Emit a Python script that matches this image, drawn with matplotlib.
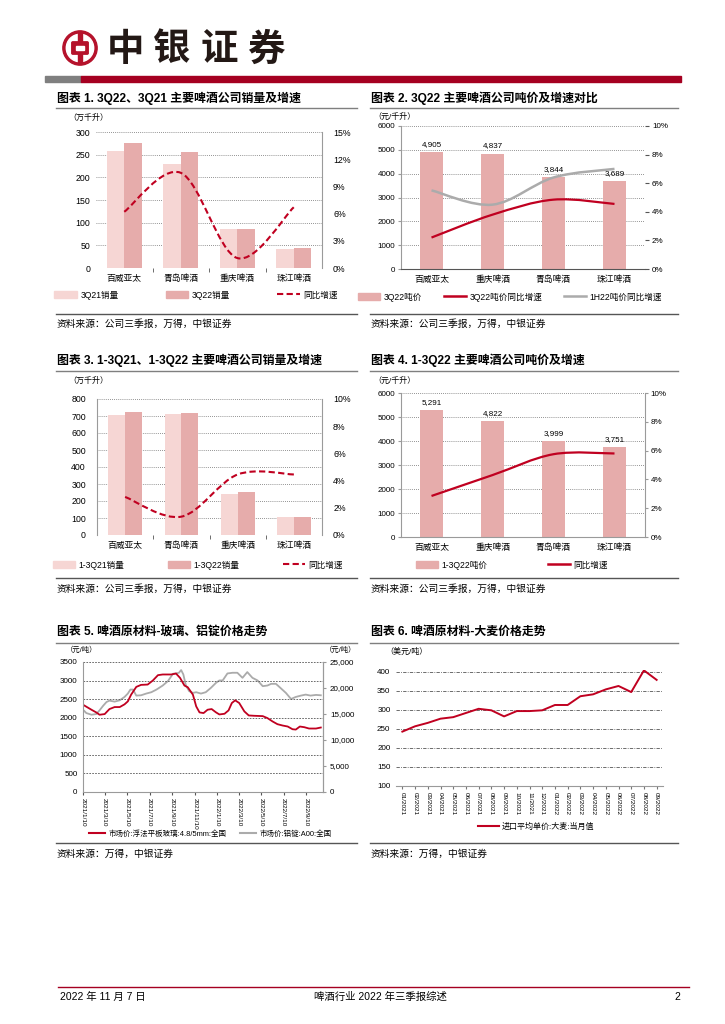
import numpy as np
import pandas as pd
import matplotlib
matplotlib.use("Agg")
import matplotlib.pyplot as plt
from matplotlib.path import Path
from matplotlib.patches import PathPatch, Patch, Circle, Rectangle, FancyBboxPatch
from matplotlib.lines import Line2D
import matplotlib.ticker as mticker

plt.rcParams['font.family'] = ['Liberation Sans', 'Noto Sans CJK SC', 'DejaVu Sans']
plt.rcParams['axes.unicode_minus'] = False

# ---- data ----
companies_a = ["百威亚太", "青岛啤酒", "重庆啤酒", "珠江啤酒"]
companies_b = ["百威亚太", "重庆啤酒", "青岛啤酒", "珠江啤酒"]

sales_3q21 = [258, 230, 87, 43]
sales_3q22 = [275, 256, 87, 45]
sales_yoy_3q = [6.2, 10.5, 1.1, 6.7]

price_3q22 = [4905, 4837, 3844, 3689]
price_yoy_3q22 = [2.2, 3.8, 4.85, 4.55]
price_yoy_1h22 = [5.5, 4.5, 6.4, 7.0]

sales_13q21 = [705, 711, 239, 105]
sales_13q22 = [722, 720, 251, 105]
sales_yoy_13q = [2.8, 1.35, 4.45, 4.45]

price_13q22 = [5291, 4822, 3999, 3751]
price_yoy_13q22 = [2.85, 4.3, 5.75, 5.8]

glass_dates = ["2021-01-10", "2021-02-02", "2021-02-15", "2021-02-24", "2021-03-10",
               "2021-03-23", "2021-04-06", "2021-04-20", "2021-05-03", "2021-05-12",
               "2021-05-21", "2021-06-04", "2021-06-17", "2021-07-05", "2021-07-19",
               "2021-08-02", "2021-08-15", "2021-09-07", "2021-09-20", "2021-10-01",
               "2021-10-13", "2021-10-22", "2021-11-05", "2021-11-14", "2021-11-23",
               "2021-12-04", "2021-12-15", "2021-12-26", "2022-01-07", "2022-01-16",
               "2022-01-30", "2022-02-10", "2022-02-19", "2022-02-28", "2022-03-11",
               "2022-03-25", "2022-04-06", "2022-04-21", "2022-05-14", "2022-05-27",
               "2022-06-10", "2022-06-23", "2022-07-07", "2022-07-21", "2022-08-03",
               "2022-08-12", "2022-08-23", "2022-09-04", "2022-09-17", "2022-10-06",
               "2022-10-19"]
glass_price = [2350, 2215, 2143, 2080, 2098, 2233, 2287, 2287, 2360, 2440,
               2622, 2830, 2884, 2893, 3001, 3146, 3164, 3164, 3190, 3073,
               2866, 2820, 2622, 2305, 2143, 2125, 2215, 2233, 2143, 2088,
               2106, 2197, 2396, 2468, 2396, 2170, 2061, 2052, 2043, 1989,
               1898, 1826, 1790, 1763, 1690, 1681, 1763, 1745, 1709, 1709,
               1736]

alu_dates = ["2021-01-10", "2021-01-19", "2021-02-02", "2021-02-15", "2021-02-24",
             "2021-03-06", "2021-03-15", "2021-03-23", "2021-04-06", "2021-04-20",
             "2021-05-03", "2021-05-12", "2021-05-19", "2021-05-26", "2021-06-04",
             "2021-06-17", "2021-07-01", "2021-07-15", "2021-07-29", "2021-08-15",
             "2021-08-29", "2021-09-12", "2021-09-20", "2021-09-28", "2021-10-04",
             "2021-10-10", "2021-10-17", "2021-10-26", "2021-11-05", "2021-11-14",
             "2021-11-27", "2021-12-10", "2021-12-24", "2022-01-07", "2022-01-16",
             "2022-01-25", "2022-02-07", "2022-02-21", "2022-03-06", "2022-03-20",
             "2022-04-02", "2022-04-16", "2022-04-30", "2022-05-14", "2022-05-27",
             "2022-06-06", "2022-06-19", "2022-07-03", "2022-07-16", "2022-07-30",
             "2022-08-12", "2022-08-26", "2022-09-08", "2022-09-21", "2022-10-06",
             "2022-10-19"]
alu_price = [15830, 15180, 14860, 14990, 15700, 16600, 17310, 17570, 17380, 17640,
             18280, 18930, 19700, 19700, 18540, 18600, 18930, 19190, 19700, 20480,
             21320, 22740, 22800, 22930, 23450, 22610, 20480, 19380, 19060, 19190,
             18930, 19190, 20030, 21000, 21450, 21450, 22800, 22930, 22930, 21960,
             23060, 21960, 21450, 20350, 20480, 20800, 20800, 19900, 19060, 17890,
             18280, 18540, 18730, 18540, 18670, 18600]

barley_months = ["01/2021", "02/2021", "03/2021", "04/2021", "05/2021", "06/2021",
                 "07/2021", "08/2021", "09/2021", "10/2021", "11/2021", "12/2021",
                 "01/2022", "02/2022", "03/2022", "04/2022", "05/2022", "06/2022",
                 "07/2022", "08/2022", "09/2022"]
barley_price = [243, 257, 266, 277, 281, 292, 303, 299, 283, 297, 297, 299,
                313, 313, 336, 341, 354, 363, 347, 404, 379]

# ---- style ----
RED = "#B5122B"
DARKRED = "#A50021"
LINE_RED = "#C00020"
PINK_LIGHT = "#F6D6D4"
PINK = "#E6ACAB"
GRAY_LINE = "#ABABAB"
SPINE = "#9A9A9A"
TICK_FS = 6.3
W, H = 725, 1024


def fx(x):
    return x / W


def fy(y):
    return 1 - y / H


def box(x0, y0, x1, y1):
    return [fx(x0), fy(y1), (x1 - x0) / W, (y1 - y0) / H]


def smooth_path(xs, ys):
    # Excel style smoothed line (Catmull-Rom as cubic bezier)
    n = len(xs)
    verts = [(xs[0], ys[0])]
    codes = [Path.MOVETO]
    for i in range(n - 1):
        xa, ya = (xs[i - 1], ys[i - 1]) if i > 0 else (xs[i], ys[i])
        xd, yd = (xs[i + 2], ys[i + 2]) if i + 2 < n else (xs[i + 1], ys[i + 1])
        c1 = (xs[i] + (xs[i + 1] - xa) / 6, ys[i] + (ys[i + 1] - ya) / 6)
        c2 = (xs[i + 1] - (xd - xs[i]) / 6, ys[i + 1] - (yd - ys[i]) / 6)
        verts += [c1, c2, (xs[i + 1], ys[i + 1])]
        codes += [Path.CURVE4] * 3
    return Path(verts, codes)


def add_smooth(ax, ys, color, ls="-", lw=1.5):
    xs = list(range(len(ys)))
    ax.add_patch(PathPatch(smooth_path(xs, ys), fill=False, edgecolor=color,
                           linestyle=ls, linewidth=lw, capstyle="butt"))


def hline(x0, x1, y, color, lw):
    fig.add_artist(Line2D([fx(x0), fx(x1)], [fy(y), fy(y)], color=color, lw=lw))


def dotted_grid(ax):
    ax.yaxis.grid(True, linestyle=(0, (1, 1.5)), color="#707070", lw=0.6)
    ax.set_axisbelow(True)


fig = plt.figure(figsize=(7.25, 10.24), dpi=100)

# ---- header ----
logo = fig.add_axes(box(62, 30, 98, 66))
logo.set_xlim(-1.05, 1.05)
logo.set_ylim(-1.05, 1.05)
logo.set_aspect("equal")
logo.axis("off")
logo.add_patch(Circle((0, 0), 1.0, color=RED))
logo.add_patch(Circle((0, 0), 0.8, color="white"))
logo.add_patch(Rectangle((-0.13, -0.9), 0.26, 1.8, color=RED))
logo.add_patch(FancyBboxPatch((-0.42, -0.3), 0.84, 0.6, boxstyle="round,pad=0.06", color=RED))
logo.add_patch(Rectangle((-0.24, -0.14), 0.48, 0.28, color="white"))

for ch, cx in zip("中银证券", [125, 172, 219, 266]):
    fig.text(fx(cx), fy(49), ch, fontsize=27, fontweight="bold", color="#231815",
             ha="center", va="center", family=["Noto Sans CJK SC"])

fig.add_artist(Rectangle((fx(45), fy(82)), (81 - 45) / W, 6 / H, color="#7F7F7F",
                         transform=fig.transFigure))
fig.add_artist(Rectangle((fx(81), fy(82)), (681 - 81) / W, 6 / H, color=DARKRED,
                         transform=fig.transFigure))

# ---- titles, rules and sources ----
titles = [
    (57, 98, "图表 1. 3Q22、3Q21 主要啤酒公司销量及增速"),
    (371, 98, "图表 2. 3Q22 主要啤酒公司吨价及增速对比"),
    (57, 360, "图表 3. 1-3Q21、1-3Q22 主要啤酒公司销量及增速"),
    (371, 360, "图表 4. 1-3Q22 主要啤酒公司吨价及增速"),
    (57, 632, "图表 5. 啤酒原材料-玻璃、铝锭价格走势"),
    (371, 632, "图表 6. 啤酒原材料-大麦价格走势"),
]
for x, y, t in titles:
    fig.text(fx(x), fy(y), t, fontsize=8.6, fontweight="bold", ha="left", va="center")

for y in [108, 371, 643]:
    hline(56, 357, y, "#7F7F7F", 1.0)
    hline(370, 678, y, "#7F7F7F", 1.0)
for y in [314, 578, 843]:
    hline(56, 357, y, "#555555", 1.0)
    hline(370, 678, y, "#555555", 1.0)

src1 = "资料来源：公司三季报，万得，中银证券"
src2 = "资料来源：万得，中银证券"
for y, s in [(324, src1), (589, src1), (854, src2)]:
    fig.text(fx(57), fy(y), s, fontsize=7, ha="left", va="center", style="italic")
    fig.text(fx(371), fy(y), s, fontsize=7, ha="left", va="center", style="italic")

# ---- footer ----
hline(58, 689, 987, DARKRED, 1.0)
fig.text(fx(60), fy(997), "2022 年 11 月 7 日", fontsize=7.5, ha="left", va="center")
fig.text(fx(380), fy(997), "啤酒行业 2022 年三季报综述", fontsize=7.5, ha="center", va="center")
fig.text(fx(677), fy(997), "2", fontsize=7.5, ha="center", va="center")


def legend_at(handles, labels, x, y, spacing, fs=6.2, hl=2.6):
    fig.legend(handles, labels, loc="center", bbox_to_anchor=(fx(x), fy(y)),
               ncol=len(handles), frameon=False, fontsize=fs, columnspacing=spacing,
               handlelength=hl, handleheight=0.9, handletextpad=0.4)


x4 = np.arange(4)

# ---- chart 1 ----
ax = fig.add_axes(box(96, 132, 322, 268))
ax.bar(x4 - 0.155, sales_3q21, 0.31, color=PINK_LIGHT)
ax.bar(x4 + 0.155, sales_3q22, 0.31, color=PINK)
ax.set_xlim(-0.5, 3.5)
ax.set_ylim(0, 300)
ax.set_yticks(range(0, 301, 50))
ax.set_xticks(x4)
ax.set_xticklabels(companies_a)
ax.set_xticks([0.5, 1.5, 2.5], minor=True)
dotted_grid(ax)
for s in ["top", "left", "bottom", "right"]:
    ax.spines[s].set_visible(False)
ax.tick_params(axis="y", length=0, labelsize=TICK_FS, pad=4)
ax.tick_params(axis="x", which="major", length=0, labelsize=TICK_FS, pad=4)
ax.tick_params(axis="x", which="minor", length=3, color="#555555")
ax2 = ax.twinx()
ax2.set_ylim(0, 15)
ax2.set_yticks(range(0, 16, 3))
ax2.yaxis.set_major_formatter(mticker.FormatStrFormatter("%d%%"))
for s in ["top", "left", "bottom"]:
    ax2.spines[s].set_visible(False)
ax2.spines["right"].set_color(SPINE)
ax2.tick_params(axis="y", length=0, labelsize=TICK_FS, pad=8)
add_smooth(ax2, sales_yoy_3q, LINE_RED, ls=(0, (3, 1.6)), lw=1.5)
fig.text(fx(68), fy(118), "（万千升）", fontsize=5.8, ha="left", va="center")
legend_at([Patch(color=PINK_LIGHT), Patch(color=PINK),
           Line2D([], [], color=LINE_RED, ls=(0, (3, 1.6)), lw=1.5)],
          ["3Q21销量", "3Q22销量", "同比增速"], 196, 295, 5.5)

# ---- chart 2 ----
ax = fig.add_axes(box(401, 126, 645, 269))
ax.bar(x4, price_3q22, 0.38, color=PINK)
for xi, v in zip(x4, price_3q22):
    ax.text(xi, v + 180, f"{v:,}", ha="center", va="bottom", fontsize=5.8)
ax.set_xlim(-0.5, 3.5)
ax.set_ylim(0, 6000)
ax.set_yticks(range(0, 6001, 1000))
ax.set_xticks(x4)
ax.set_xticklabels(companies_b)
dotted_grid(ax)
for s in ["top", "right"]:
    ax.spines[s].set_visible(False)
ax.spines["left"].set_color(SPINE)
ax.spines["bottom"].set_color("#555555")
ax.tick_params(axis="y", length=2, color=SPINE, labelsize=TICK_FS - 0.5, pad=2)
ax.tick_params(axis="x", length=0, labelsize=TICK_FS, pad=4)
ax2 = ax.twinx()
ax2.set_ylim(0, 10)
ax2.set_yticks(range(0, 11, 2))
ax2.yaxis.set_major_formatter(mticker.FormatStrFormatter("%d%%"))
for s in ["top", "left", "bottom", "right"]:
    ax2.spines[s].set_visible(False)
ax2.tick_params(axis="y", length=3, color="#555555", labelsize=TICK_FS - 0.5, pad=2)
add_smooth(ax2, price_yoy_1h22, GRAY_LINE, lw=1.8)
add_smooth(ax2, price_yoy_3q22, LINE_RED, lw=1.6)
fig.text(fx(373), fy(117), "（元/千升）", fontsize=5.8, ha="left", va="center")
legend_at([Patch(color=PINK), Line2D([], [], color=LINE_RED, lw=1.8),
           Line2D([], [], color=GRAY_LINE, lw=1.8)],
          ["3Q22吨价", "3Q22吨价同比增速", "1H22吨价同比增速"], 510, 297, 2.5)

# ---- chart 3 ----
ax = fig.add_axes(box(97, 399, 322, 535))
ax.bar(x4 - 0.15, sales_13q21, 0.3, color=PINK_LIGHT)
ax.bar(x4 + 0.15, sales_13q22, 0.3, color=PINK)
ax.set_xlim(-0.5, 3.5)
ax.set_ylim(0, 800)
ax.set_yticks(range(0, 801, 100))
ax.set_xticks(x4)
ax.set_xticklabels(companies_a)
ax.set_xticks([0.5, 1.5, 2.5], minor=True)
dotted_grid(ax)
for s in ["top", "right", "bottom"]:
    ax.spines[s].set_visible(False)
ax.spines["left"].set_color(SPINE)
ax.tick_params(axis="y", length=0, labelsize=TICK_FS, pad=8)
ax.tick_params(axis="x", which="major", length=0, labelsize=TICK_FS, pad=4)
ax.tick_params(axis="x", which="minor", length=3, color="#555555")
ax2 = ax.twinx()
ax2.set_ylim(0, 10)
ax2.set_yticks(range(0, 11, 2))
ax2.yaxis.set_major_formatter(mticker.FormatStrFormatter("%d%%"))
for s in ["top", "left", "bottom"]:
    ax2.spines[s].set_visible(False)
ax2.spines["right"].set_color(SPINE)
ax2.tick_params(axis="y", length=0, labelsize=TICK_FS, pad=8)
add_smooth(ax2, sales_yoy_13q, LINE_RED, ls=(0, (3, 1.6)), lw=1.5)
fig.text(fx(68), fy(381), "（万千升）", fontsize=5.8, ha="left", va="center")
legend_at([Patch(color=PINK_LIGHT), Patch(color=PINK),
           Line2D([], [], color=LINE_RED, ls=(0, (3, 1.6)), lw=1.5)],
          ["1-3Q21销量", "1-3Q22销量", "同比增速"], 198, 565, 5.0)

# ---- chart 4 ----
ax = fig.add_axes(box(401, 393, 645, 537))
ax.bar(x4, price_13q22, 0.38, color=PINK)
for xi, v in zip(x4, price_13q22):
    ax.text(xi, v + 180, f"{v:,}", ha="center", va="bottom", fontsize=5.8)
ax.set_xlim(-0.5, 3.5)
ax.set_ylim(0, 6000)
ax.set_yticks(range(0, 6001, 1000))
ax.set_xticks(x4)
ax.set_xticklabels(companies_b)
dotted_grid(ax)
ax.spines["top"].set_visible(False)
for s in ["left", "right", "bottom"]:
    ax.spines[s].set_color(SPINE)
ax.tick_params(axis="y", length=2, color=SPINE, labelsize=TICK_FS - 0.5, pad=2)
ax.tick_params(axis="x", length=0, labelsize=TICK_FS, pad=4)
ax2 = ax.twinx()
ax2.set_ylim(0, 10)
ax2.set_yticks(range(0, 11, 2))
ax2.yaxis.set_major_formatter(mticker.FormatStrFormatter("%d%%"))
for s in ["top", "left", "bottom", "right"]:
    ax2.spines[s].set_visible(False)
ax2.tick_params(axis="y", length=2, color=SPINE, labelsize=TICK_FS - 0.5, pad=2)
add_smooth(ax2, price_yoy_13q22, LINE_RED, lw=1.6)
fig.text(fx(373), fy(381), "（元/千升）", fontsize=5.8, ha="left", va="center")
legend_at([Patch(color=PINK), Line2D([], [], color=LINE_RED, lw=1.8)],
          ["1-3Q22吨价", "同比增速"], 512, 565, 7.0)

# ---- chart 5 ----
ax = fig.add_axes(box(83, 662, 323, 792))
ax.plot(pd.to_datetime(glass_dates), glass_price, color=LINE_RED, lw=1.3)
ax.set_ylim(0, 3500)
ax.set_yticks(range(0, 3501, 500))
ax.set_xlim(pd.Timestamp("2021-01-10"), pd.Timestamp("2022-10-25"))
tick_dates = [pd.Timestamp(2021 + (m - 1) // 12, (m - 1) % 12 + 1, 10) for m in range(1, 22, 2)]
ax.set_xticks(tick_dates)
ax.set_xticklabels([f"{d.year}/{d.month}/10" for d in tick_dates], rotation=-90,
                   ha="center", va="top")
ax.yaxis.grid(True, linestyle=(0, (2, 1.5)), color="#555555", lw=0.6)
ax.set_axisbelow(True)
ax.spines["top"].set_visible(False)
for s in ["left", "right", "bottom"]:
    ax.spines[s].set_color(SPINE)
ax.tick_params(axis="y", length=0, labelsize=TICK_FS - 0.5, pad=4)
ax.tick_params(axis="x", length=2, color="#555555", labelsize=4.6, pad=2)
ax2 = ax.twinx()
ax2.plot(pd.to_datetime(alu_dates), alu_price, color=GRAY_LINE, lw=1.3)
ax2.set_ylim(0, 25000)
ax2.set_yticks(range(0, 25001, 5000))
ax2.yaxis.set_major_formatter(mticker.StrMethodFormatter("{x:,.0f}"))
for s in ["top", "left", "bottom"]:
    ax2.spines[s].set_visible(False)
ax2.spines["right"].set_color(SPINE)
ax2.tick_params(axis="y", length=2, color=SPINE, labelsize=TICK_FS - 0.5, pad=3)
ax.set_zorder(ax2.get_zorder() + 1)
ax.patch.set_visible(False)
fig.text(fx(66), fy(650), "（元/吨）", fontsize=5.3, ha="left", va="center")
fig.text(fx(325), fy(650), "（元/吨）", fontsize=5.3, ha="left", va="center")
legend_at([Line2D([], [], color=LINE_RED, lw=1.5), Line2D([], [], color=GRAY_LINE, lw=1.5)],
          ["市场价:浮法平板玻璃:4.8/5mm:全国", "市场价:铝锭:A00:全国"], 210, 834, 1.8,
          fs=5.4, hl=2.2)

# ---- chart 6 ----
ax = fig.add_axes(box(396, 670, 663, 786))
xm = np.arange(len(barley_months))
ax.plot(xm, barley_price, color=LINE_RED, lw=1.4)
ax.set_xlim(-0.5, len(barley_months) - 0.5)
ax.set_ylim(100, 405)
ax.set_yticks(range(100, 401, 50))
ax.set_xticks(xm)
ax.set_xticklabels(barley_months, rotation=-90, ha="center", va="top")
ax.yaxis.grid(True, linestyle=(0, (4, 1.5, 1, 1.5)), color="#555555", lw=0.6)
ax.set_axisbelow(True)
for s in ["top", "left", "right"]:
    ax.spines[s].set_visible(False)
ax.spines["bottom"].set_color(SPINE)
ax.tick_params(axis="y", length=0, labelsize=TICK_FS - 0.5, pad=4)
ax.tick_params(axis="x", length=2, color="#777777", labelsize=4.6, pad=2)
fig.text(fx(385), fy(652), "（美元/吨）", fontsize=5.8, ha="left", va="center")
legend_at([Line2D([], [], color=LINE_RED, lw=1.5)], ["进口平均单价:大麦:当月值"], 536, 827, 2,
          fs=5.8)

fig.savefig("out.png", dpi=100)
